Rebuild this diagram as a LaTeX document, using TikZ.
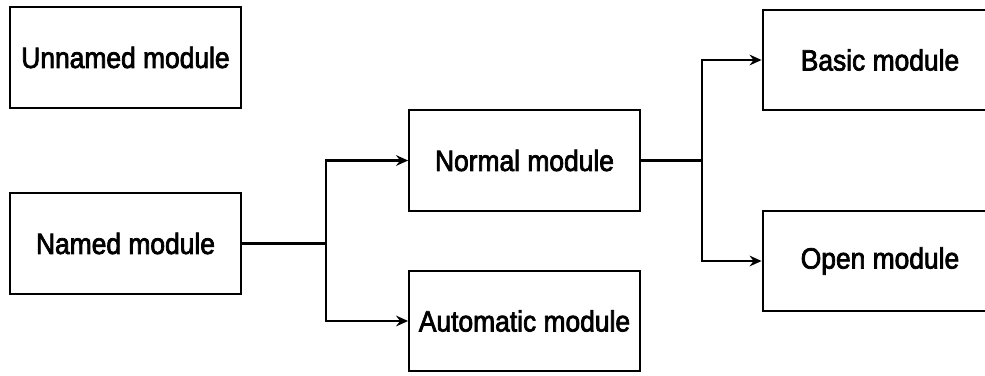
\documentclass[tikz,border=0pt]{standalone}
\usepackage{fontspec}
\setmainfont{Liberation Sans}[FakeStretch=0.9,FakeBold=2.5]
\usetikzlibrary{arrows.meta}

\tikzset{
  modbox/.style={draw, line width=1.6pt, minimum width=173pt, minimum height=75.5pt,
    inner sep=0pt, font=\fontsize{22}{26}\selectfont},
  modline/.style={line width=1.6pt},
  modarrow/.style={line width=1.6pt, -{Stealth[length=9pt,width=8pt,inset=3pt]}}
}

\begin{document}
\begin{tikzpicture}[x=0.75pt,y=0.75pt,yscale=-1,xscale=1]
\useasboundingbox (0,0) rectangle (985,375);

%Shape: Rectangle [unnamed]
\node [modbox] (unnamed) at (125.5,57.5) {Unnamed module};
%Shape: Rectangle [named]
\node [modbox] (named) at (125.5,243.5) {Named module};
%Shape: Rectangle [normal]
\node [modbox] (normal) at (524.5,160.5) {Normal module};
%Shape: Rectangle [automatic]
\node [modbox] (automatic) at (524.5,321) {Automatic module};
%Shape: Rectangle [basic]
\node [modbox, minimum width=176pt] (basic) at (880,60) {Basic module};
%Shape: Rectangle [open]
\node [modbox, minimum width=176pt] (open) at (880,261) {Open module};

%Straight Lines [named -> normal, automatic]
\draw [modline] (named.east) -- (326,243.5) coordinate (split1);
\draw [modarrow] (split1) |- (normal.west);
\draw [modarrow] (split1) |- (automatic.west);

%Straight Lines [normal -> basic, open]
\draw [modline] (normal.east) -- (702,160.5) coordinate (split2);
\draw [modarrow] (split2) |- (basic.west);
\draw [modarrow] (split2) |- (open.west);

\end{tikzpicture}
\end{document}
